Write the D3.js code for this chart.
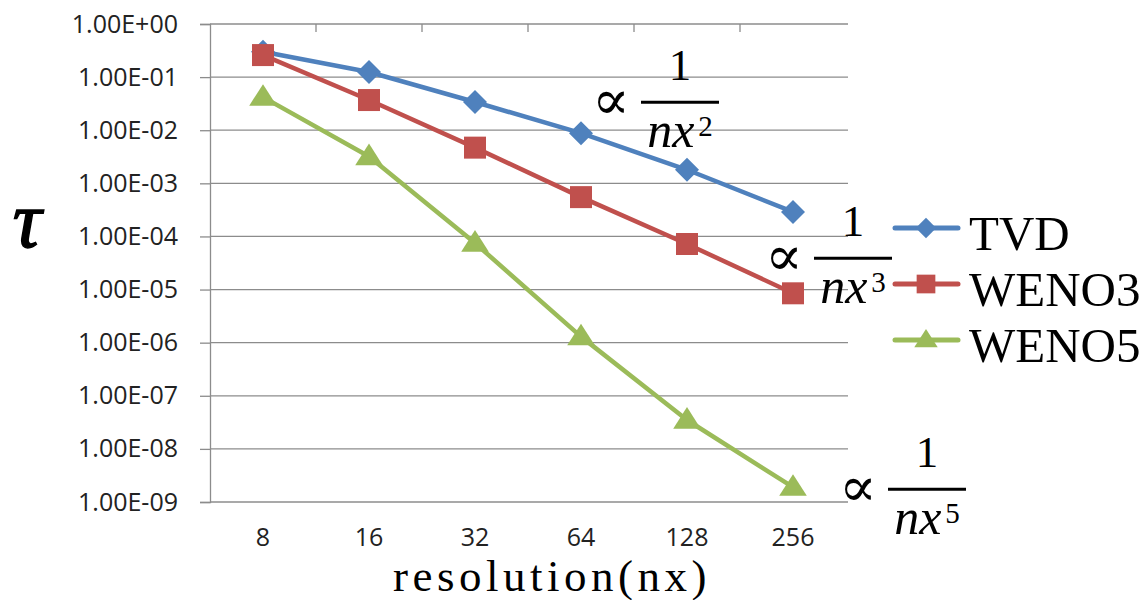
<!DOCTYPE html>
<html>
<head>
<meta charset="utf-8">
<script src="https://cdn.jsdelivr.net/npm/d3@7"></script>
<style>
  body { margin: 0; background: #fff; }
  svg { display: block; }
</style>
</head>
<body>
<div id="chart"></div>
<script>
// data
const resolutions = ["8", "16", "32", "64", "128", "256"];
const tvd   = [0.30, 0.125, 0.034, 0.0088, 0.0018, 0.00029];
const weno3 = [0.26, 0.037, 0.0047, 0.00055, 0.000072, 0.0000085];
const weno5 = [0.042, 0.0032, 0.000075, 0.0000013, 0.000000035, 0.0000000019];
const yTicks = [1, 1e-1, 1e-2, 1e-3, 1e-4, 1e-5, 1e-6, 1e-7, 1e-8, 1e-9];

const series = [
  { name: "TVD",   values: tvd,   color: "#4f81bd", shape: "diamond" },
  { name: "WENO3", values: weno3, color: "#c0504d", shape: "square" },
  { name: "WENO5", values: weno5, color: "#9bbb59", shape: "triangle" }
];

const W = 1147, H = 600;
const plot = { left: 210, right: 846, top: 24, bottom: 502 };
const serif = "'Liberation Serif', 'DejaVu Serif', serif";
const sans = "'Open Sans', 'Noto Sans', sans-serif";

const svg = d3.select("#chart").append("svg")
  .attr("width", W)
  .attr("height", H);

// scales
const x = d3.scaleBand()
  .domain(resolutions)
  .range([plot.left, plot.right])
  .padding(0);

const y = d3.scaleLog()
  .domain([1e-9, 1])
  .range([plot.bottom, plot.top]);

const xc = d => x(d) + x.bandwidth() / 2;

// gridlines
svg.append("g")
  .selectAll("line")
  .data(yTicks)
  .enter()
  .append("line")
  .attr("x1", plot.left)
  .attr("x2", plot.right + 2)
  .attr("y1", d => y(d))
  .attr("y2", d => y(d))
  .attr("stroke", "#8c8c8c")
  .attr("stroke-width", 1.3);

// y axis
const fmt = v => {
  const e = Math.round(Math.log10(v));
  const s = Math.abs(e) < 10 ? "0" + Math.abs(e) : "" + Math.abs(e);
  return "1.00E" + (e >= 0 ? "+" : "-") + s;
};

const yAxis = svg.append("g")
  .attr("transform", `translate(${plot.left},0)`)
  .call(d3.axisLeft(y).tickValues(yTicks).tickFormat(fmt).tickSize(10).tickPadding(22));
yAxis.select(".domain").attr("stroke", "#8c8c8c").attr("stroke-width", 1.3);
yAxis.selectAll(".tick line").attr("stroke", "#8c8c8c").attr("stroke-width", 1.3);
yAxis.selectAll("text")
  .style("font-family", sans)
  .style("font-size", "25px")
  .style("fill", "#222");

// category ticks along the top (axis crosses at 1)
svg.append("g")
  .selectAll("line")
  .data(resolutions.slice(1))
  .enter()
  .append("line")
  .attr("x1", d => x(d))
  .attr("x2", d => x(d))
  .attr("y1", plot.top)
  .attr("y2", plot.top + 8)
  .attr("stroke", "#8c8c8c")
  .attr("stroke-width", 1.3);

// x labels at the bottom
const xAxis = svg.append("g")
  .attr("transform", `translate(0,${plot.bottom})`)
  .call(d3.axisBottom(x).tickSize(0).tickPadding(26));
xAxis.select(".domain").remove();
xAxis.selectAll("text")
  .style("font-family", sans)
  .style("font-size", "25px")
  .style("fill", "#222");

// lines
const line = d3.line()
  .x((d, i) => xc(resolutions[i]))
  .y(d => y(d));

svg.append("g")
  .selectAll("path")
  .data(series)
  .enter()
  .append("path")
  .attr("d", d => line(d.values))
  .attr("fill", "none")
  .attr("stroke", d => d.color)
  .attr("stroke-width", 4.5)
  .attr("stroke-linejoin", "round");

// markers
function markerPath(shape, s) {
  if (shape === "diamond") return `M0,${-s}L${s},0L0,${s}L${-s},0Z`;
  if (shape === "square") return `M${-s},${-s}H${s}V${s}H${-s}Z`;
  const h = s * 1.8;
  return `M0,${-h * 0.6}L${s * 1.15},${h * 0.4}L${-s * 1.15},${h * 0.4}Z`;
}
const markerSize = { diamond: 12, square: 11, triangle: 12 };

series.forEach(s => {
  svg.append("g")
    .selectAll("path")
    .data(s.values)
    .enter()
    .append("path")
    .attr("transform", (d, i) => `translate(${xc(resolutions[i])},${y(d)})`)
    .attr("d", markerPath(s.shape, markerSize[s.shape]))
    .attr("fill", s.color);
});

// legend
const legend = svg.append("g")
  .attr("transform", "translate(895,228)");
series.forEach((s, i) => {
  const g = legend.append("g").attr("transform", `translate(0,${i * 56})`);
  g.append("line")
    .attr("x1", 0).attr("x2", 63)
    .attr("stroke", s.color)
    .attr("stroke-width", 5)
    .attr("stroke-linecap", "round");
  g.append("path")
    .attr("transform", "translate(31,0)")
    .attr("d", markerPath(s.shape, markerSize[s.shape] * 0.85))
    .attr("fill", s.color);
  g.append("text")
    .attr("x", 74)
    .attr("y", 22)
    .style("font-family", serif)
    .style("font-size", "49px")
    .style("fill", "#000")
    .text(s.name);
});

// order annotations (proportional to 1/nx^p)
const notes = [
  { p: "2", cx: (xc("64") + xc("128")) / 2 + 46, cy: y(tvd[3]) - 31 },
  { p: "3", cx: xc("256") + 60, cy: y(weno3[5]) - 35 },
  { p: "5", cx: xc("256") + 134, cy: y(weno5[5]) + 2 }
];
notes.forEach(n => {
  const g = svg.append("g").attr("transform", `translate(${n.cx},${n.cy})`);
  g.append("text")
    .attr("x", -69).attr("y", 17)
    .attr("text-anchor", "middle")
    .style("font-family", "'DejaVu Serif', serif")
    .style("font-size", "56px")
    .text("∝");
  g.append("line")
    .attr("x1", -39).attr("x2", 39)
    .attr("stroke", "#000")
    .attr("stroke-width", 3);
  g.append("text")
    .attr("x", 0).attr("y", -22)
    .attr("text-anchor", "middle")
    .style("font-family", serif)
    .style("font-size", "45px")
    .text("1");
  const t = g.append("text")
    .attr("x", 0).attr("y", 45)
    .attr("text-anchor", "middle")
    .style("font-family", serif)
    .style("font-size", "50px")
    .style("font-style", "italic");
  t.append("tspan").text("nx");
  t.append("tspan")
    .attr("dy", -11)
    .attr("dx", 4)
    .style("font-size", "29px")
    .style("font-style", "normal")
    .text(n.p);
});

// axis titles
svg.append("text")
  .attr("x", 552)
  .attr("y", 591)
  .attr("text-anchor", "middle")
  .style("font-family", serif)
  .style("font-size", "45px")
  .style("letter-spacing", "4.5px")
  .text("resolution(nx)");

svg.append("text")
  .attr("x", 27)
  .attr("y", 247)
  .attr("text-anchor", "middle")
  .style("font-family", serif)
  .style("font-size", "80px")
  .style("font-style", "italic")
  .style("stroke", "#000")
  .style("stroke-width", 1.5)
  .text("τ");
</script>
</body>
</html>
